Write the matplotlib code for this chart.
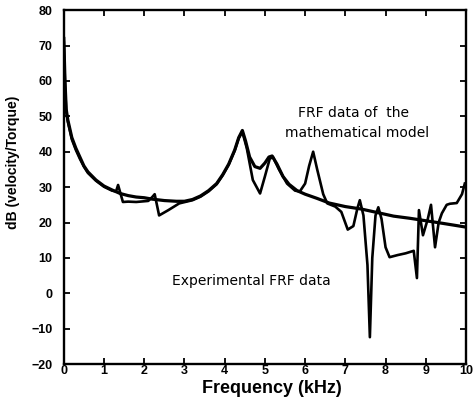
import matplotlib
matplotlib.use('Agg')
import matplotlib.pyplot as plt

plt.rcParams['font.family'] = ['Liberation Sans', 'DejaVu Sans']

# FRF of the mathematical model (smooth curve)
model_f = [0.0, 0.03, 0.06, 0.1, 0.2, 0.3, 0.4, 0.5, 0.6, 0.8, 1.0, 1.2, 1.4, 1.6, 1.8,
           2.0, 2.2, 2.5, 2.8, 3.0, 3.2, 3.4, 3.6, 3.8, 3.95, 4.1, 4.25, 4.35, 4.44,
           4.52, 4.62, 4.75, 4.88, 5.0, 5.1, 5.18, 5.3, 5.45, 5.6, 5.8, 6.0, 6.3, 6.6,
           7.0, 7.4, 7.8, 8.2, 8.6, 9.0, 9.4, 10.0]
model_db = [72, 60, 52, 49, 44, 41, 38.5, 36, 34.3, 32, 30.3, 29.2, 28.2, 27.6, 27.2,
            27, 26.6, 26.2, 26, 26, 26.5, 27.5, 29, 31, 33.5, 36.5, 40.5, 44, 46,
            43, 38.5, 35.8, 35.3, 36.8, 38.5, 38.8, 36.5, 33, 30.8, 29, 28, 26.8, 25.5,
            24.5, 23.8, 22.8, 21.8, 21.2, 20.5, 19.8, 18.7]

# experimental FRF
exp_f = [0.0, 0.03, 0.06, 0.1, 0.2, 0.3, 0.4, 0.5, 0.6, 0.8, 1.0, 1.2, 1.3, 1.35, 1.47,
         1.6, 1.8, 2.1, 2.2, 2.26, 2.37, 2.6, 2.87, 3.2, 3.4, 3.6, 3.8, 3.95, 4.1, 4.25,
         4.35, 4.44, 4.55, 4.7, 4.88, 5.0, 5.12, 5.2, 5.35, 5.55, 5.75, 5.87, 6.0, 6.1,
         6.2, 6.3, 6.45, 6.55, 6.75, 6.9, 7.06, 7.2, 7.3, 7.36, 7.45, 7.55, 7.61, 7.67,
         7.75, 7.82, 7.9, 8.0, 8.1, 8.3, 8.5, 8.7, 8.78, 8.83, 8.93, 9.05, 9.13, 9.23,
         9.32, 9.4, 9.52, 9.6, 9.77, 9.9, 9.97]
exp_db = [71, 59, 51.5, 48.5, 43.5, 40.5, 38, 35.8, 34, 31.8, 30.1, 29, 28.8, 30.6, 25.8,
          25.9, 25.8, 26.1, 27.2, 28, 22, 23.5, 25.4, 26.3, 27.3, 28.8, 30.8, 33.3, 36.3, 40.3,
          43.8, 45.6, 41, 32, 28.2, 33, 38, 38.5, 35, 31, 29, 28.8, 31, 36,
          40, 35, 28, 25.4, 24.5, 23, 18, 19, 24, 26.3, 22, 8, -12.4, 10,
          22, 24.3, 21, 13, 10.2, 10.8, 11.3, 12, 4.3, 23.5, 16.4, 21, 25, 13,
          20, 22.6, 25, 25.3, 25.5, 28, 31]

fig = plt.figure(figsize=(4.76, 4.05), dpi=100)
ax = fig.add_axes([0.134, 0.101, 0.845, 0.874])

ax.plot(model_f, model_db, color='black', lw=2.3)
ax.plot(exp_f, exp_db, color='black', lw=1.9)

ax.set_xlim(0, 10)
ax.set_ylim(-20, 80)
ax.set_xticks(range(0, 11))
ax.set_yticks(range(-20, 81, 10))
ax.tick_params(direction='in', top=True, right=True, length=4, width=1.3,
               labelsize=9)
ax.tick_params(axis='x', pad=1)
ax.tick_params(axis='y', pad=8)
for lab in ax.get_xticklabels() + ax.get_yticklabels():
    lab.set_fontweight('bold')
for s in ax.spines.values():
    s.set_linewidth(1.7)

ax.set_xlabel('Frequency (kHz)', fontsize=13, fontweight='bold', va='center')
ax.xaxis.set_label_coords(0.517, -0.068)
ax.set_ylabel('dB (velocity/Torque)', fontsize=10, fontweight='bold')
ax.yaxis.set_label_coords(-0.11, 0.57)

note = dict(fontsize=10, va='center', ha='left', family='DejaVu Sans')
ax.text(5.82, 50.8, 'FRF data of  the', **note)
ax.text(5.5, 45.4, 'mathematical model', **note)
ax.text(2.7, 3.5, 'Experimental FRF data', **note)

fig.savefig('out.png', dpi=100)
